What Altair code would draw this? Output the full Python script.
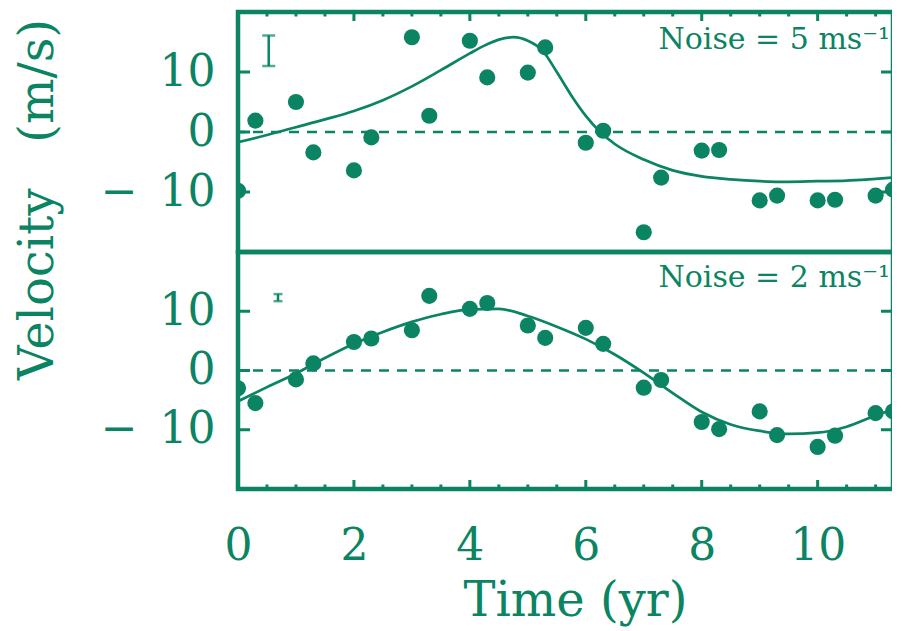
import altair as alt
import pandas as pd

GREEN = "#0a8462"
FONT = "DejaVu Serif"

# observation times (yr), shared by both panels
t_obs = [0.0, 0.3, 1.0, 1.3, 2.0, 2.3, 3.0, 3.3, 4.0, 4.3, 5.0, 5.3,
         6.0, 6.3, 7.0, 7.3, 8.0, 8.3, 9.0, 9.3, 10.0, 10.3, 11.0, 11.3]
# top panel: noise 5 m/s
v_top = [-9.8, 1.9, 5.0, -3.4, -6.4, -0.9, 15.8, 2.7, 15.2, 9.1, 9.9, 14.1,
         -1.8, 0.2, -16.7, -7.6, -3.1, -3.0, -11.4, -10.6, -11.4, -11.3, -10.6, -9.6]
# bottom panel: noise 2 m/s
v_bot = [-3.0, -5.5, -1.5, 1.2, 4.8, 5.4, 6.8, 12.6, 10.4, 11.4, 7.6, 5.5,
         7.2, 4.5, -2.9, -1.6, -8.7, -9.9, -6.9, -10.9, -12.9, -11.0, -7.2, -6.9]

# model curves
tc_top = [0, 0.5, 1, 1.5, 2, 2.5, 3, 3.5, 4, 4.25, 4.5, 4.75, 5, 5.25, 5.5, 5.75,
          6, 6.25, 6.5, 7, 7.5, 8, 8.5, 9, 9.5, 10, 10.5, 11, 11.3]
vc_top = [-1.7, -0.5, 0.8, 2.1, 3.5, 5.3, 7.6, 10.3, 13.1, 14.4, 15.4, 15.8, 15.2, 13.6, 10.0, 6.1,
          2.7, 0.0, -2.0, -4.6, -6.4, -7.4, -7.9, -8.2, -8.3, -8.2, -8.1, -7.8, -7.6]
tc_bot = [0, 0.5, 1, 1.5, 2, 2.5, 3, 3.5, 4, 4.5, 5, 5.5, 6, 6.5, 7, 7.5, 8, 8.5,
          9, 9.5, 10, 10.5, 11, 11.3]
vc_bot = [-5.2, -2.8, -0.5, 2.1, 4.5, 6.5, 8.2, 9.5, 10.3, 10.4, 9.2, 7.4, 5.3, 2.7,
          -0.4, -3.8, -7.0, -9.1, -10.2, -10.7, -10.5, -9.5, -7.6, -6.6]

# error-bar glyphs
err_top_t = [0.53]
err_top_lo = [11.0]
err_top_hi = [16.1]
err_bot_t = [0.69]
err_bot_lo = [11.7]
err_bot_hi = [12.9]

# noise labels
lab_top = ["Noise = 5 ms\u207b\u00b9"]
lab_top_t = [11.25]
lab_top_v = [13.9]
lab_bot = ["Noise = 2 ms\u207b\u00b9"]
lab_bot_t = [11.25]
lab_bot_v = [14.1]

x_major = [0, 2, 4, 6, 8, 10]
x_major_ticks = [2, 4, 6, 8, 10]
x_minor_ticks = [0.5, 1, 1.5, 2.5, 3, 3.5, 4.5, 5, 5.5, 6.5, 7, 7.5,
                 8.5, 9, 9.5, 10.5, 11]
y_ticks = [-10, 0, 10]
x_dom = [0, 11.3]
y_dom = [-20, 20]

W = 655
H_TOP = 240
H_BOT = 237
MAJOR_LEN = 9      # px
MINOR_LEN = 4.5    # px
Y_LEN = 12         # px
TICK_W = 3


def panel(v_obs, tc, vc, et, elo, ehi, cap_w, lab, lab_t, lab_v, H, bottom):
    xs = alt.Scale(domain=x_dom, nice=False, zero=False)
    ys = alt.Scale(domain=y_dom, nice=False, zero=False)

    v_per_px = (y_dom[1] - y_dom[0]) / H
    t_per_px = (x_dom[1] - x_dom[0]) / W
    if bottom:
        edge, sgn = y_dom[0], 1
    else:
        edge, sgn = y_dom[1], -1

    pts_df = pd.DataFrame({"t": t_obs, "v": v_obs})
    curve_df = pd.DataFrame({"t": tc, "v": vc})
    zero_df = pd.DataFrame({"v": [0]})
    err_df = pd.DataFrame({"t": et, "lo": elo, "hi": ehi})
    cap_df = pd.DataFrame({"t": et + et, "v": elo + ehi})
    lab_df = pd.DataFrame({"t": lab_t, "v": lab_v, "label": lab})
    xmaj_df = pd.DataFrame({"t": x_major_ticks,
                            "a": [edge] * len(x_major_ticks),
                            "b": [edge + sgn * MAJOR_LEN * v_per_px] * len(x_major_ticks)})
    xmin_df = pd.DataFrame({"t": x_minor_ticks,
                            "a": [edge] * len(x_minor_ticks),
                            "b": [edge + sgn * MINOR_LEN * v_per_px] * len(x_minor_ticks)})
    yl_df = pd.DataFrame({"v": y_ticks,
                          "a": [x_dom[0]] * 3,
                          "b": [x_dom[0] + Y_LEN * t_per_px] * 3})
    yr_df = pd.DataFrame({"v": y_ticks,
                          "a": [x_dom[1]] * 3,
                          "b": [x_dom[1] - Y_LEN * t_per_px] * 3})

    if bottom:
        x_lab_axis = alt.Axis(orient="bottom", values=x_major, ticks=False, tickSize=0,
                              domain=False, grid=False, labelFont=FONT, labelFontSize=44,
                              labelColor=GREEN, labelPadding=35, labelFlush=False,
                              title="Time (yr)", titleFont=FONT, titleFontSize=48,
                              titleFontWeight="normal", titleColor=GREEN, titlePadding=9,
                              titleX=337)
    else:
        x_lab_axis = None

    ykw = dict(orient="left", values=y_ticks, ticks=False, tickSize=0, domain=False,
               grid=False, labelFont=FONT, labelFontSize=44, labelColor=GREEN,
               labelPadding=23,
               labelExpr="datum.value < 0 ? '\u2212\u2002' + abs(datum.value) : '' + datum.value")
    if bottom:
        ykw["title"] = None
    else:
        ykw.update(title="Velocity\u00a0\u00a0\u00a0(m/s)", titleFont=FONT, titleFontSize=48,
                   titleFontWeight="normal", titleColor=GREEN, titleX=-200, titleY=187,
                   titleAngle=270, titleAlign="center", titleBaseline="middle")
    y_lab_axis = alt.Axis(**ykw)

    pts = alt.Chart(pts_df).mark_circle(size=260, color=GREEN, opacity=1, clip=True).encode(
        x=alt.X("t:Q", scale=xs, axis=x_lab_axis),
        y=alt.Y("v:Q", scale=ys, axis=y_lab_axis),
    )

    curve = alt.Chart(curve_df).mark_line(color=GREEN, strokeWidth=2.7,
                                          interpolate="monotone", clip=True).encode(
        x=alt.X("t:Q", scale=xs, axis=None),
        y=alt.Y("v:Q", scale=ys, axis=None),
    )

    zero = alt.Chart(zero_df).mark_rule(color=GREEN, strokeWidth=2.5, strokeDash=[10, 8]).encode(
        y=alt.Y("v:Q", scale=ys, axis=None),
    )

    # inward tick marks on the frame
    def vtick(df):
        return alt.Chart(df).mark_rule(color=GREEN, strokeWidth=TICK_W).encode(
            x=alt.X("t:Q", scale=xs, axis=None),
            y=alt.Y("a:Q", scale=ys, axis=None),
            y2="b:Q",
        )

    def htick(df):
        return alt.Chart(df).mark_rule(color=GREEN, strokeWidth=TICK_W).encode(
            y=alt.Y("v:Q", scale=ys, axis=None),
            x=alt.X("a:Q", scale=xs, axis=None),
            x2="b:Q",
        )

    eb = alt.Chart(err_df).mark_rule(color=GREEN, strokeWidth=2.5).encode(
        x=alt.X("t:Q", scale=xs, axis=None),
        y=alt.Y("lo:Q", scale=ys, axis=None),
        y2="hi:Q",
    )
    caps = alt.Chart(cap_df).mark_tick(color=GREEN, orient="horizontal", size=cap_w,
                                       thickness=2.5).encode(
        x=alt.X("t:Q", scale=xs, axis=None),
        y=alt.Y("v:Q", scale=ys, axis=None),
    )
    txt = alt.Chart(lab_df).mark_text(align="right", baseline="alphabetic", font=FONT,
                                      fontSize=30, color=GREEN).encode(
        x=alt.X("t:Q", scale=xs, axis=None),
        y=alt.Y("v:Q", scale=ys, axis=None),
        text="label:N",
    )

    return alt.layer(curve, zero, vtick(xmaj_df), vtick(xmin_df), htick(yl_df), htick(yr_df),
                     eb, caps, txt, pts).resolve_axis(
        x="independent", y="independent").properties(width=W, height=H)


top = panel(v_top, tc_top, vc_top, err_top_t, err_top_lo, err_top_hi, 13,
            lab_top, lab_top_t, lab_top_v, H_TOP, False)
bot = panel(v_bot, tc_bot, vc_bot, err_bot_t, err_bot_lo, err_bot_hi, 9,
            lab_bot, lab_bot_t, lab_bot_v, H_BOT, True)

chart = alt.vconcat(top, bot, spacing=0, bounds="flush").configure_view(
    stroke=GREEN, strokeWidth=4.5
).properties(
    padding={"left": 3, "top": 0, "right": -5, "bottom": 0},
    background="white",
)

chart.save("out.html", embed_options={"renderer": "svg", "actions": False})
